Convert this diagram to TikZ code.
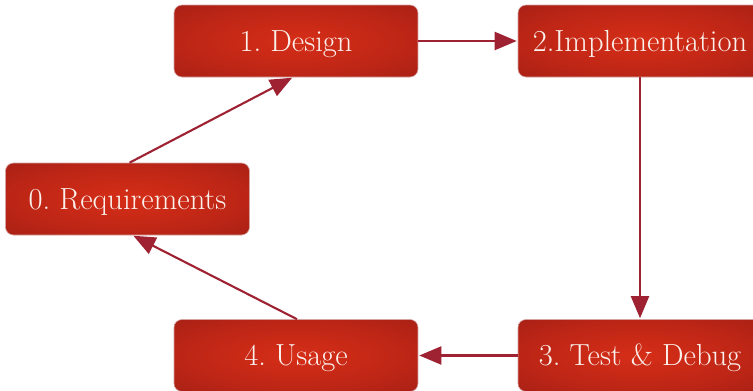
\documentclass[tikz,border=0pt]{standalone}
\usetikzlibrary{arrows.meta}
\definecolor{boxin}{HTML}{D62E17}
\definecolor{boxmid}{HTML}{BE2616}
\definecolor{boxout}{HTML}{931B14}
\definecolor{linkred}{HTML}{9E2232}
\definecolor{boxtext}{HTML}{FBF1EC}
\pgfdeclareradialshading{boxglow}{\pgfpoint{0bp}{0bp}}{color(0bp)=(boxin); color(22bp)=(boxmid); color(50bp)=(boxout)}
\tikzset{
  stepbox/.style={rounded corners=8pt, shading=boxglow, draw=boxout!40!white, line width=0.6pt,
    minimum width=244pt, minimum height=72pt, inner sep=0pt, text height=24pt, text depth=4pt,
    text=boxtext, font=\fontsize{30.5}{34}\selectfont\frenchspacing},
  link/.style={draw=linkred, line width=2.1pt, -{Triangle[length=22pt,width=18pt]}, shorten >=1pt}
}
\begin{document}
\begin{tikzpicture}[x=1pt,y=-1pt]
\useasboundingbox (0,0) rectangle (753,391);
\clip (0,0) rectangle (753,391);
\fill[white] (0,0) rectangle (753,391);
\node[stepbox] (design) at (296,41) {1. Design};
\node[stepbox] (impl) at (640,41) {2.Implementation};
\node[stepbox] (req) at (127.5,199) {0. Requirements};
\node[stepbox] (usage) at (296,355.5) {4. Usage};
\node[stepbox] (test) at (640,355.5) {3. Test \& Debug};
\draw[link] (design.east) -- (impl.west);
\draw[link] (impl.south) -- (test.north);
\draw[link] (test.west) -- (usage.east);
\draw[link] ([xshift=1pt]usage.north) -- ([xshift=5pt]req.south);
\draw[link] ([xshift=2pt]req.north) -- ([xshift=-3pt]design.south);
\end{tikzpicture}
\end{document}
